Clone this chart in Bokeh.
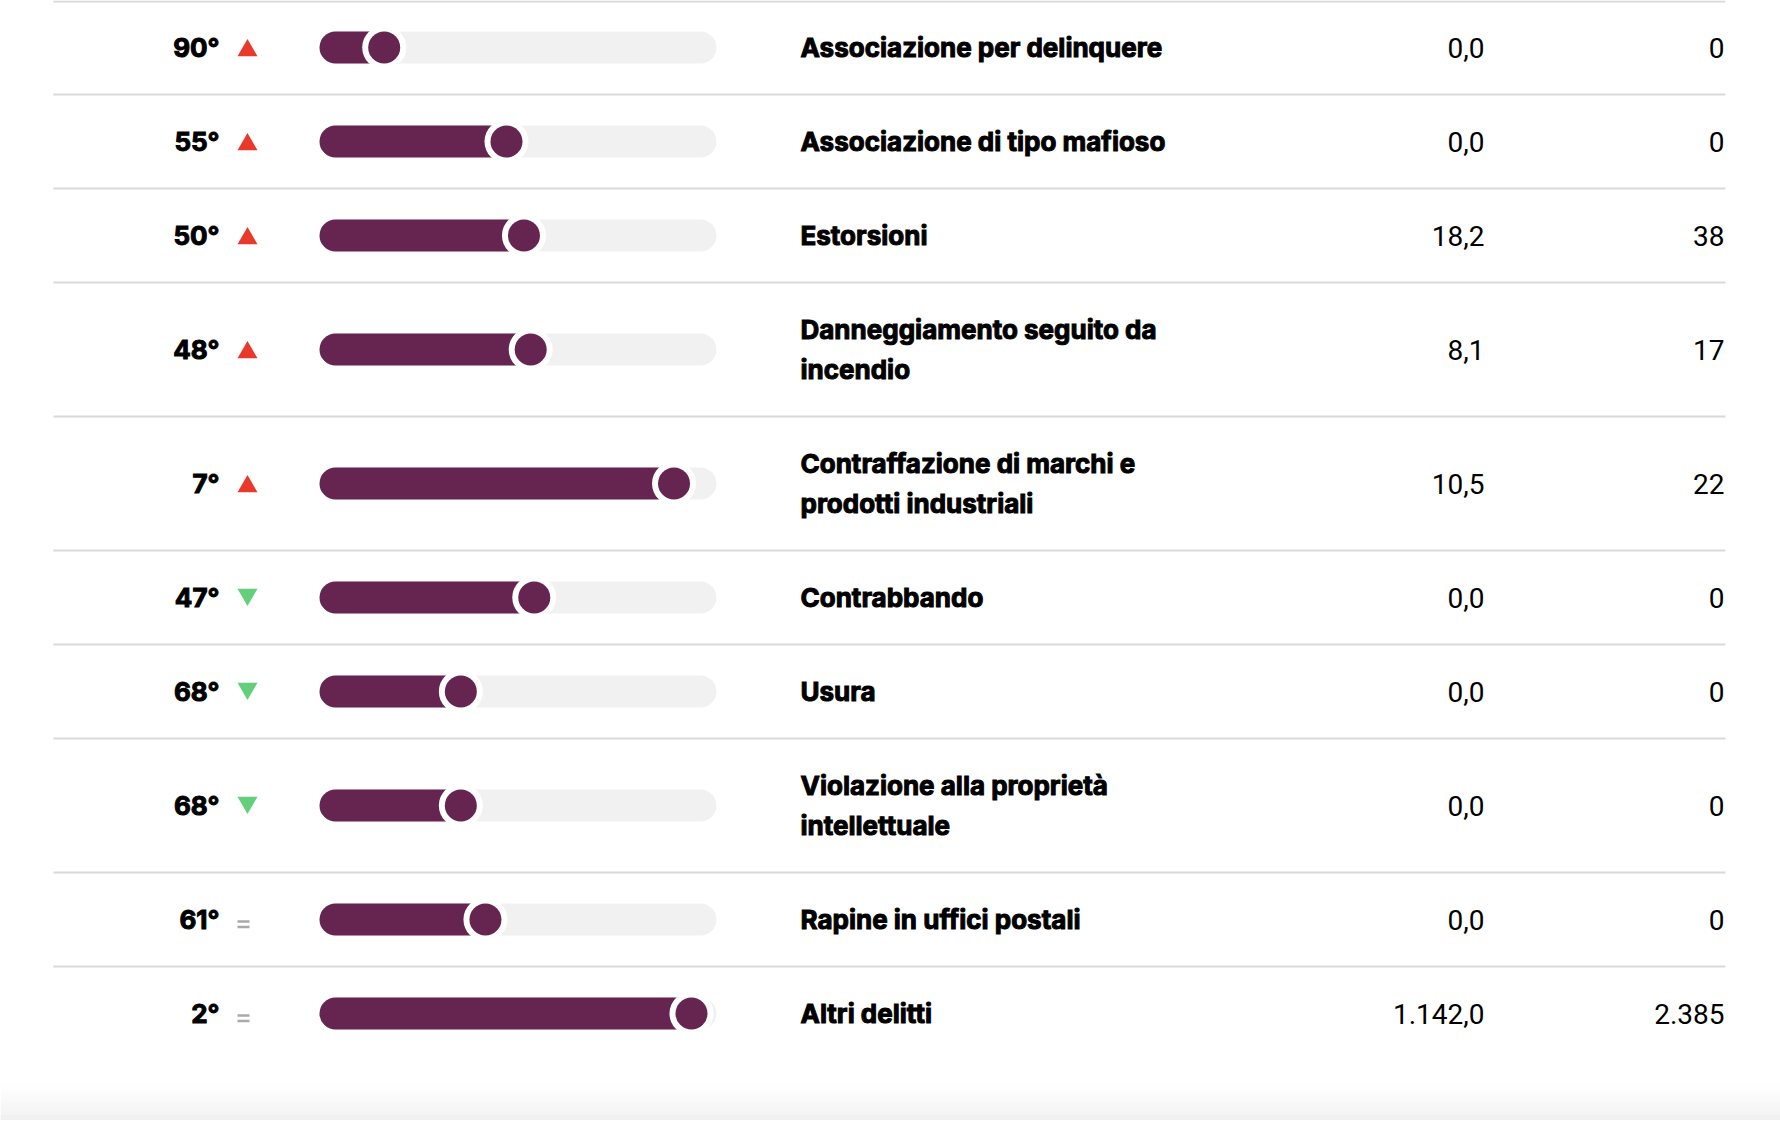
from bokeh.plotting import figure
from bokeh.models import Range1d
from bokeh.core.properties import value
from bokeh.embed import file_html
from bokeh.resources import INLINE

# ---------------- data ----------------
posizioni = [90, 55, 50, 48, 7, 47, 68, 68, 61, 2]
tendenza = ["su", "su", "su", "su", "su", "giu", "giu", "giu", "uguale", "uguale"]
reati = [
    "Associazione per delinquere",
    "Associazione di tipo mafioso",
    "Estorsioni",
    "Danneggiamento seguito da\nincendio",
    "Contraffazione di marchi e\nprodotti industriali",
    "Contrabbando",
    "Usura",
    "Violazione alla proprietà\nintellettuale",
    "Rapine in uffici postali",
    "Altri delitti",
]
denunce_per_100k = [0.0, 0.0, 18.2, 8.1, 10.5, 0.0, 0.0, 0.0, 0.0, 1142.0]
denunce = [0, 0, 38, 17, 22, 0, 0, 0, 0, 2385]
indice_barra = [16.3, 47.1, 51.5, 53.2, 89.3, 54.1, 35.6, 35.6, 41.8, 93.7]

# ---------------- styling / layout ----------------
PURPLE = "#662551"
TRACK = "#f1f1f1"
RED = "#e9392a"
GREEN = "#63cf7a"
GRAY_EQ = "#a9a9a9"
RULE = "#d9d9d9"
FONT = "Inter"
FONT_NUM = "Roboto"

W, H = 1780, 1120
ROW_H = 94
LINE_EXTRA = 40
LINE_GAP = 40
X_RULE0, X_RULE1 = 53, 1725
X_RANK_R = 219
X_TREND = 247
TRACK_L, TRACK_R, BAR_H = 319, 716, 32
X_LABEL = 800
X_VAL1_R = 1484
X_VAL2_R = 1724

def it_num(v, dec):
    s = f"{v:,.{dec}f}"
    return s.replace(",", "X").replace(".", ",").replace("X", ".")

# row geometry from number of label lines
tops, centers = [], []
y = 0
for lab in reati:
    n = lab.count("\n") + 1
    h = ROW_H + LINE_EXTRA * (n - 1)
    tops.append(y)
    centers.append(y + h / 2)
    y += h

p = figure(width=W, height=H, output_backend="svg", toolbar_location=None,
           x_range=Range1d(0, W), y_range=Range1d(H, 0),
           min_border=0, min_border_left=0, min_border_right=0,
           min_border_top=0, min_border_bottom=0)
p.axis.visible = False
p.grid.visible = False
p.outline_line_color = None
p.background_fill_color = "white"
p.border_fill_color = "white"

# bottom card shading
n_b = 18
y0b, y1b = 1080, H
for i in range(n_b):
    c = int(round(255 - (255 - 239) * ((i + 1) / n_b) ** 1.5))
    p.quad(left=0, right=W, top=y0b + (y1b - y0b) * i / n_b,
           bottom=y0b + (y1b - y0b) * (i + 1) / n_b,
           fill_color=f"#{c:02x}{c:02x}{c:02x}", line_color=None)

# rules
rule_y = [max(t, 1) for t in tops]
p.segment(x0=[X_RULE0] * len(rule_y), x1=[X_RULE1] * len(rule_y),
          y0=rule_y, y1=rule_y, line_color=RULE, line_width=2)

# tracks
r = BAR_H / 2
p.segment(x0=[TRACK_L + r] * len(centers), x1=[TRACK_R - r] * len(centers),
          y0=centers, y1=centers, line_color=TRACK, line_width=BAR_H, line_cap="round")

knob_x = [TRACK_L + v / 100 * (TRACK_R - TRACK_L) for v in indice_barra]
p.segment(x0=[TRACK_L + r] * len(centers), x1=knob_x,
          y0=centers, y1=centers, line_color=PURPLE, line_width=BAR_H, line_cap="round")
p.scatter(x=knob_x, y=centers, size=BAR_H + 12, marker="circle",
          fill_color="white", line_color=None)
p.scatter(x=knob_x, y=centers, size=BAR_H, marker="circle",
          fill_color=PURPLE, line_color=None)

# rank text
rk = p.text(x=[X_RANK_R] * len(centers), y=centers, text=[f"{v}°" for v in posizioni],
            text_font=value(FONT), text_font_style="bold", text_font_size="26px",
            text_align="right", text_baseline="middle", text_color="#000000")

# trends
up = [(X_TREND, c + 3) for c, t in zip(centers, tendenza) if t == "su"]
down = [(X_TREND, c - 3) for c, t in zip(centers, tendenza) if t == "giu"]
eq = [c for c, t in zip(centers, tendenza) if t == "uguale"]
if up:
    p.scatter(x=[a for a, b in up], y=[b for a, b in up], marker="triangle",
              size=20, fill_color=RED, line_color=None)
if down:
    p.scatter(x=[a for a, b in down], y=[b for a, b in down], marker="inverted_triangle",
              size=20, fill_color=GREEN, line_color=None)
for off in (4, 9.5):
    p.segment(x0=[X_TREND - 10] * len(eq), x1=[X_TREND + 2] * len(eq),
              y0=[c + off - 2 for c in eq], y1=[c + off - 2 for c in eq],
              line_color=GRAY_EQ, line_width=2.5)

# labels (multi-line handled per line)
lx, ly, lt = [], [], []
for lab, c in zip(reati, centers):
    lines = lab.split("\n")
    n = len(lines)
    for i, ln in enumerate(lines):
        lx.append(X_LABEL)
        ly.append(c + (i - (n - 1) / 2) * LINE_GAP)
        lt.append(ln)
lb = p.text(x=lx, y=ly, text=lt, text_font=value(FONT), text_font_style="bold",
            text_font_size="26px", text_align="left", text_baseline="middle",
            text_color="#000000")

# heavier strokes for the bold texts, if supported
for g in (rk, lb):
    try:
        g.glyph.text_outline_color = "#000000"
    except Exception:
        pass

# values
p.text(x=[X_VAL1_R] * len(centers), y=centers,
       text=[it_num(v, 1) for v in denunce_per_100k],
       text_font=value(FONT_NUM), text_font_size="28px",
       text_align="right", text_baseline="middle", text_color="#000000")
p.text(x=[X_VAL2_R] * len(centers), y=centers,
       text=[it_num(v, 0) for v in denunce],
       text_font=value(FONT_NUM), text_font_size="28px",
       text_align="right", text_baseline="middle", text_color="#000000")

open("out.html", "w").write(file_html(p, INLINE))
